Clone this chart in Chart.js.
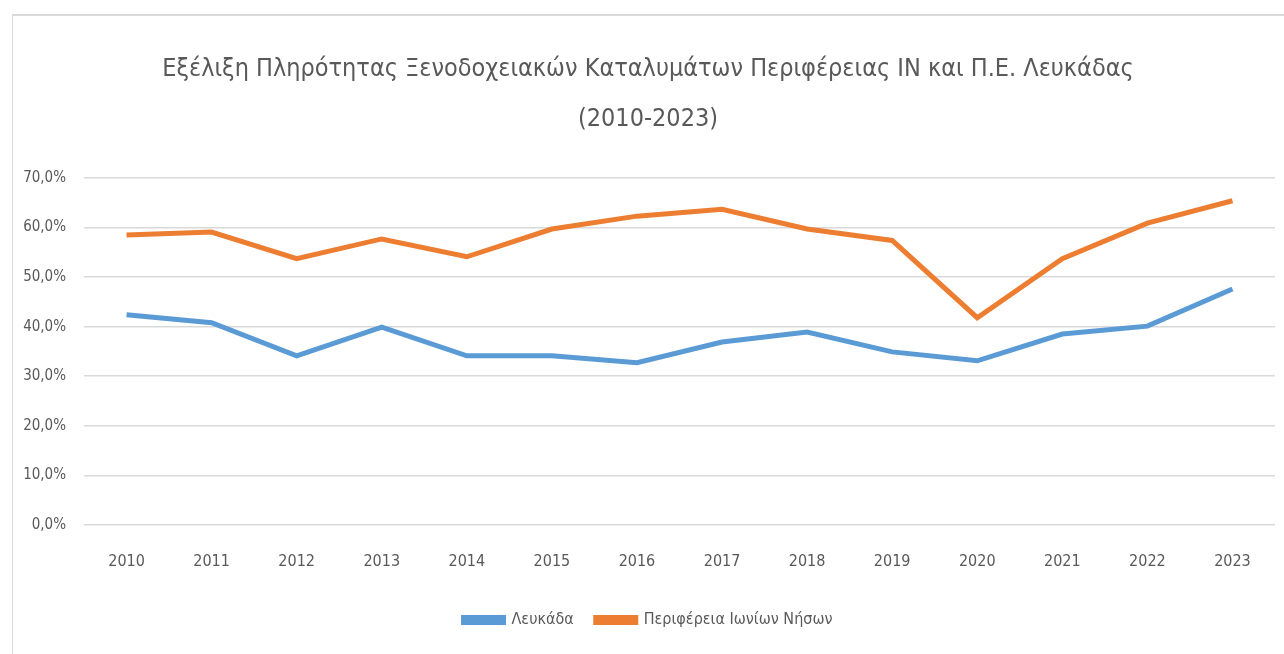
<!DOCTYPE html>
<html>
<head>
<meta charset="utf-8">
<script src="https://cdn.jsdelivr.net/npm/chart.js@4/dist/chart.umd.min.js"></script>
<style>
  html, body { margin: 0; padding: 0; background: #fff; overflow: hidden; }
  #frame {
    position: absolute; left: 12px; top: 14px;
    width: 1272px; height: 640px;
    border-left: 1px solid #d9d9d9; border-top: 2px solid #d9d9d9;
    box-sizing: border-box;
  }
  #chart { display: block; }
</style>
</head>
<body>
<div id="frame"><canvas id="chart" width="1271" height="638"></canvas></div>
<script>
const years = ["2010", "2011", "2012", "2013", "2014", "2015", "2016", "2017", "2018", "2019", "2020", "2021", "2022", "2023"]
const lefkada = [42.4, 40.8, 34.1, 39.9, 34.1, 34.1, 32.7, 36.9, 38.9, 34.9, 33.1, 38.5, 40.1, 47.6]
const ionianIslands = [58.5, 59.1, 53.7, 57.7, 54.1, 59.7, 62.3, 63.7, 59.7, 57.4, 41.8, 53.7, 60.9, 65.4]
const titleLines = ["Εξέλιξη Πληρότητας Ξενοδοχειακών Καταλυμάτων Περιφέρειας ΙΝ και Π.Ε. Λευκάδας", "(2010-2023)"]

const fontFamily = "'Liberation Sans Narrow', 'DejaVu Sans Condensed', sans-serif"
const textColor = "#595959"

function lineDataset(label, data, color) {
	return {
		label: label,
		data: data,
		borderColor: color,
		backgroundColor: color,
		borderWidth: 5,
		pointRadius: 0,
		tension: 0,
		fill: false,
	}
}

new Chart(document.getElementById("chart"), {
	type: 'line',
	data: {
		labels: years,
		datasets: [
			lineDataset("Λευκάδα", lefkada, "#5B9BD5"),
			lineDataset("Περιφέρεια Ιωνίων Νήσων", ionianIslands, "#ED7D31"),
		],
	},
	options: {
		responsive: false,
		animation: false,
		layout: { padding: { left: 8, right: 9, top: 28, bottom: 16 } },
		plugins: {
			title: {
				display: true,
				text: titleLines,
				color: textColor,
				font: { family: fontFamily, size: 25, weight: 'normal', lineHeight: 2 },
				padding: { top: 0, bottom: 34 },
			},
			legend: {
				position: 'bottom',
				labels: {
					color: textColor,
					font: { family: fontFamily, size: 16 },
					boxWidth: 40,
					boxHeight: 5,
					padding: 22,
				},
			},
			tooltip: { enabled: false },
		},
		scales: {
			x: {
				offset: true,
				grid: { display: false },
				border: { display: false },
				ticks: {
					color: textColor,
					font: { family: fontFamily, size: 16 },
					padding: 19,
				},
			},
			y: {
				min: 0,
				max: 70,
				grid: { color: "#d9d9d9", lineWidth: 1.5, drawTicks: false },
				border: { display: false },
				ticks: {
					stepSize: 10,
					color: textColor,
					font: { family: fontFamily, size: 15 },
					padding: 18,
					callback: v => v.toFixed(1).replace(".", ",") + "%",
				},
				afterFit: scale => { scale.width = 63 },
			},
		},
	},
})
</script>
</body>
</html>
